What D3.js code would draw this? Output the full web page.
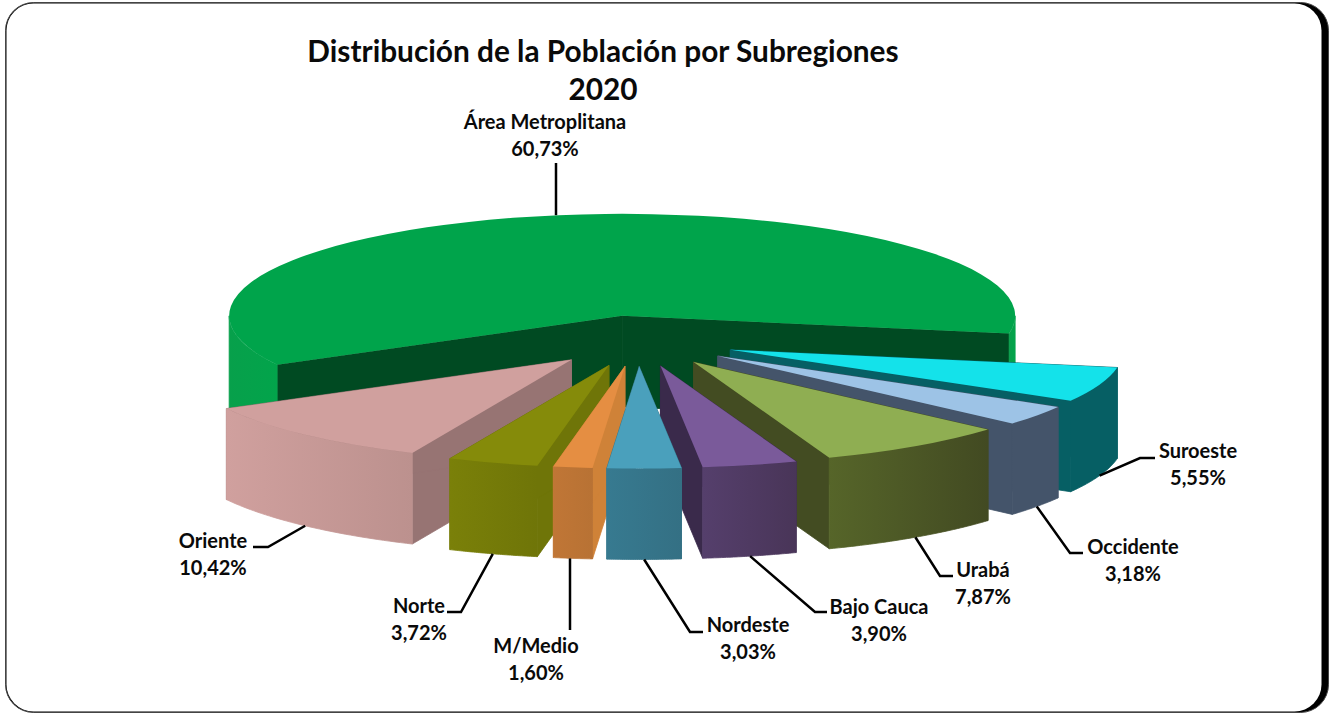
<!DOCTYPE html>
<html>
<head>
<meta charset="utf-8">
<script src="https://cdn.jsdelivr.net/npm/d3@7"></script>
<style>
  body { margin: 0; background: #fff; }
  text { font-family: Lato, "Open Sans", sans-serif; font-weight: 700; fill: #0a0a0a; text-anchor: middle; }
</style>
</head>
<body>
<script>
const subregiones = ['Área Metroplitana', 'Suroeste', 'Occidente', 'Urabá', 'Bajo Cauca', 'Nordeste', 'M/Medio', 'Norte', 'Oriente'];
const porcentajes = [60.73, 5.55, 3.18, 7.87, 3.90, 3.03, 1.60, 3.72, 10.42];
const titulo = ['Distribución de la Población por Subregiones', '2020'];

// colores de cada tajada: cara superior, muro exterior (2 paradas), muro lateral
const coloresTop = ['#00a44b', '#14e2ea', '#9dc3e6', '#8fae52', '#7a5a9a', '#4aa0bc', '#e58e42', '#858b0a', '#d0a09e'];
const coloresMuro = [['#07a04b', '#02a44b'], ['#065f64', '#065f64'], ['#44546a', '#44546a'], ['#566529', '#424a22'], ['#553f6c', '#493558'], ['#377a90', '#347084'], ['#c07636', '#b87234'], ['#7a8009', '#6f7508'], ['#d0a09e', '#bc918e']];
const coloresLado = ['#004a22', '#065f64', '#44546a', '#434c22', '#3a2a4b', '#357689', '#cf8238', '#6f7508', '#977473'];

// etiquetas: codo de la guia y centro del texto
const codos = [[556, 163], [1140, 458], [1070, 553], [940, 576], [815, 612], [690, 632], [570, 630], [461, 612], [268, 547]];
const colas = [0, 15, 13, 13, 12, 13, 0, -14, -15];
const textos = [[545, 129], [1198, 458], [1133, 554], [983, 577], [879, 614], [748, 632], [536, 653], [419, 613], [213, 548]];

const width = 1334, height = 714;
const cx = 638, cy = 341, rx = 393, ry = 102, alto = 91, explosion = 0.25, inicio = 241.4;
const rad = d => d * Math.PI / 180;

const svg = d3.select('body').append('svg')
    .attr('width', width)
    .attr('height', height)
    .style('display', 'block');
const defs = svg.append('defs');

// marco con sombra negra a la derecha
svg.append('rect').attr('x', 5.5).attr('y', 2.5).attr('width', 1323).attr('height', 710).attr('rx', 28)
    .attr('fill', '#000').attr('stroke', '#444');
svg.append('rect').attr('x', 6.5).attr('y', 3.5).attr('width', 1315).attr('height', 708).attr('rx', 27)
    .attr('fill', '#fff');

const pie = d3.pie().sort(null).startAngle(rad(inicio)).endAngle(rad(inicio + 360));
const arcos = pie(porcentajes);
const arco = d3.arc().innerRadius(0).outerRadius(rx);
const linea = d3.line();

const punto = (a, r) => [rx * r * Math.sin(a), -ry * r * Math.cos(a)];
const centro = d => {
    const m = punto((d.startAngle + d.endAngle) / 2, explosion);
    return [cx + m[0], cy + m[1]];
};

// partes del borde que miran al frente (entre 90 y 270 grados)
function tramos(d) {
    const out = [];
    [0, 360].forEach(k => {
        const a = Math.max(d.startAngle, rad(90 + k));
        const b = Math.min(d.endAngle, rad(270 + k));
        if (b > a) out.push([a, b]);
    });
    return out;
}

const orden = arcos.slice().sort((p, q) => centro(p)[1] - centro(q)[1]);

orden.forEach(d => {
    const i = d.index;
    const [ax, ay] = centro(d);
    const g = svg.append('g').attr('transform', `translate(${ax},${ay})`);

    [d.startAngle, d.endAngle].forEach(a => {
        const p = punto(a, 1);
        g.append('path')
            .attr('d', linea([[0, 0], p, [p[0], p[1] + alto], [0, alto]]) + 'Z')
            .attr('fill', coloresLado[i])
            .attr('stroke', coloresLado[i])
            .attr('stroke-width', 0.8);
    });

    const gradId = 'muro' + i;
    const grad = defs.append('linearGradient').attr('id', gradId);
    grad.append('stop').attr('offset', '0%').attr('stop-color', coloresMuro[i][0]);
    grad.append('stop').attr('offset', '100%').attr('stop-color', coloresMuro[i][1]);

    tramos(d).forEach(([a, b]) => {
        const arriba = d3.range(0, 41).map(t => punto(a + (b - a) * t / 40, 1));
        const abajo = arriba.map(p => [p[0], p[1] + alto]).reverse();
        g.append('path')
            .attr('d', linea(arriba.concat(abajo)) + 'Z')
            .attr('fill', `url(#${gradId})`)
            .attr('stroke', `url(#${gradId})`)
            .attr('stroke-width', 0.8);
    });

    g.append('path')
        .attr('d', arco(d))
        .attr('transform', `scale(1,${ry / rx})`)
        .attr('fill', coloresTop[i]);
});

// guias y etiquetas
arcos.forEach(d => {
    const i = d.index;
    const [ax, ay] = centro(d);
    const m = punto((d.startAngle + d.endAngle) / 2, 1);
    const frente = Math.cos((d.startAngle + d.endAngle) / 2) < 0;
    let ini = [ax + m[0], ay + m[1] + (frente ? alto : 0)];
    const codo = codos[i];
    if (colas[i] === 0) ini = [codo[0], ini[1]];
    svg.append('path')
        .attr('d', linea([ini, codo, [codo[0] + colas[i], codo[1]]]))
        .attr('fill', 'none')
        .attr('stroke', '#000')
        .attr('stroke-width', 2.5);

    const t = textos[i];
    svg.append('text').attr('x', t[0]).attr('y', t[1]).attr('font-size', 20).text(subregiones[i]);
    svg.append('text').attr('x', t[0]).attr('y', t[1] + 27).attr('font-size', 20)
        .text(porcentajes[i].toFixed(2).replace('.', ',') + '%');
});

svg.selectAll('.titulo').data(titulo).enter().append('text')
    .attr('class', 'titulo')
    .attr('x', 603)
    .attr('y', (d, i) => 62 + i * 38)
    .attr('font-size', 29.8)
    .text(d => d);
</script>
</body>
</html>
